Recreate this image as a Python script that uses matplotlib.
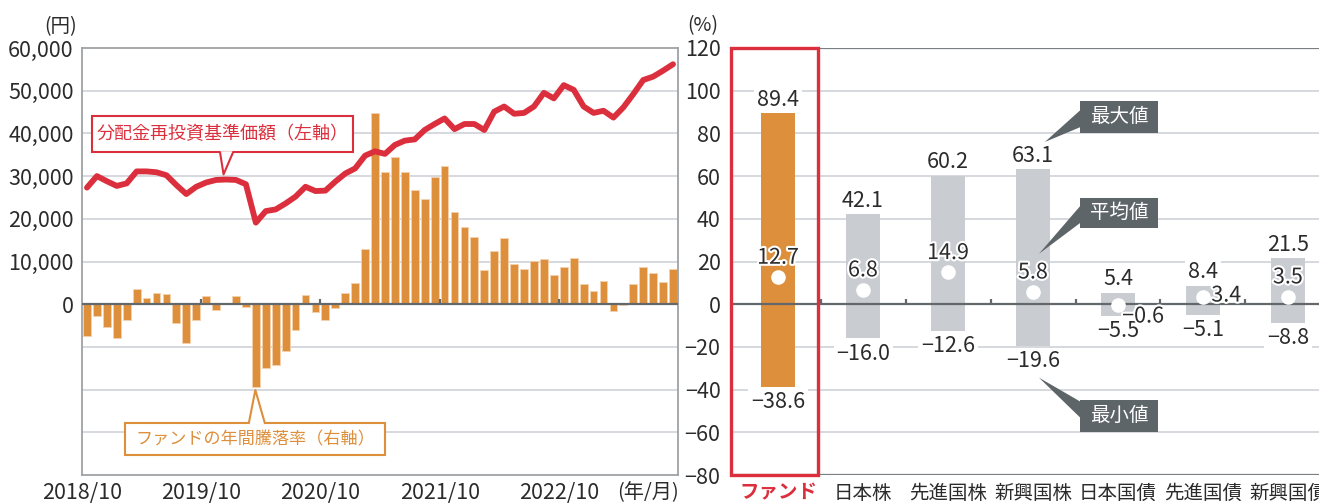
import matplotlib
matplotlib.use('Agg')
import matplotlib.pyplot as plt
from matplotlib.patches import Rectangle, Polygon
import matplotlib.patheffects as pe
from matplotlib.lines import Line2D

plt.rcParams['font.family'] = ['Noto Sans CJK JP', 'DejaVu Sans']

# ---------------- data ----------------
# monthly NAV (dividend reinvested), 2018/10 .. 2023/9
nav = [27300, 30000, 28800, 27700, 28300, 31100, 31100, 30900, 30200, 27900,
       25800, 27500, 28500, 29100, 29200, 29100, 28100, 19100, 21800, 22200,
       23600, 25200, 27500, 26500, 26600, 28700, 30600, 31800, 34800, 35800,
       35200, 37300, 38300, 38600, 40800, 42200, 43500, 41000, 42200, 42200,
       40800, 45100, 46300, 44600, 44800, 46300, 49500, 48200, 51300, 50200,
       46300, 44800, 45300, 43700, 46100, 49200, 52500, 53300, 54700, 56200]
# fund annual return (%)
annual_return = [-15.1, -5.6, -10.8, -15.7, -7.5, 7.1, 2.7, 5.3, 5.0, -8.8,
                 -18.0, -7.5, 4.0, -2.7, 0.3, 4.0, -1.3, -38.6, -30.0, -28.5,
                 -22.0, -11.9, 4.5, -3.8, -7.2, -1.6, 5.3, 10.0, 25.7, 89.4,
                 62.0, 69.0, 62.0, 53.6, 49.4, 59.8, 64.6, 43.0, 36.2, 31.5,
                 16.0, 24.9, 31.2, 18.8, 16.6, 20.2, 21.0, 13.6, 17.4, 21.5,
                 9.4, 6.0, 10.8, -3.1, -0.3, 9.4, 17.4, 14.7, 10.4, 16.6]
xtick_labels = ['2018/10', '2019/10', '2020/10', '2021/10', '2022/10']
xtick_month_index = [0, 12, 24, 36, 48]
yen_ticks = [0, 10000, 20000, 30000, 40000, 50000, 60000]
yen_tick_labels = ['0', '10,000', '20,000', '30,000', '40,000', '50,000', '60,000']

categories = ['ファンド', '日本株', '先進国株', '新興国株', '日本国債', '先進国債', '新興国債']
cat_max = [89.4, 42.1, 60.2, 63.1, 5.4, 8.4, 21.5]
cat_avg = [12.7, 6.8, 14.9, 5.8, -0.6, 3.4, 3.5]
cat_min = [-38.6, -16.0, -12.6, -19.6, -5.5, -5.1, -8.8]
pct_ticks = [-80, -60, -40, -20, 0, 20, 40, 60, 80, 100, 120]

# ---------------- style ----------------
ORANGE = '#DE8F3B'
RED = '#DC2F3D'
GRAYBAR = '#C9CDD1'
GRID = '#D2D6DA'
DARK = '#63686C'
TEXT = '#2b2b2b'
FS = 15.5

W, H = 1319, 503
fig = plt.figure(figsize=(W / 100, H / 100), dpi=100)


def minus(s):
    return s.replace('-', '\u2212')


# ---------------- left chart ----------------
axL = fig.add_axes([82 / W, 28 / H, 596 / W, 427 / H])
n = len(nav)
xs = list(range(n))
axL.set_xlim(-0.5, n - 0.5)
axL.set_ylim(-80, 120)
for v in [-60, -40, -20, 20, 40, 60, 80, 100]:
    axL.axhline(v, color=GRID, lw=1.3, zorder=0)
axL.bar(xs, annual_return, width=0.78, color=ORANGE, edgecolor='#F3D2AE',
        linewidth=0.6, zorder=2)
axL.axhline(0, color=DARK, lw=1.6, zorder=3)
axL.vlines([m - 0.5 for m in xtick_month_index[1:]], 0, 2.4, color=DARK, lw=1.6, zorder=3)
for s in axL.spines.values():
    s.set_color('#9EA2A6')
    s.set_linewidth(1.3)
axL.set_xticks([m - 0.5 for m in xtick_month_index] + [56.5])
axL.set_xticklabels(xtick_labels + ['(年/月)'], fontsize=FS, color=TEXT)
axL.get_xticklabels()[-1].set_fontsize(14.5)
axL.tick_params(axis='x', length=0, pad=5)

axN = axL.twinx()
axN.set_ylim(-40000, 60000)
axN.plot(xs, nav, color=RED, lw=4.2, solid_joinstyle='round',
         solid_capstyle='round', zorder=5)
axN.yaxis.tick_left()
axN.set_yticks(yen_ticks)
axN.set_yticklabels(yen_tick_labels, fontsize=FS, color=TEXT)
axN.tick_params(axis='y', length=0, pad=6)
for s in axN.spines.values():
    s.set_visible(False)
axL.tick_params(axis='y', left=False, labelleft=False, right=False, labelright=False)
fig.text(77 / W, 1 - 27 / H, '(円)', ha='right', va='center', fontsize=14, color=TEXT)

# callout: NAV
bx0, bx1, by0, by1 = 0.5, 26.8, 35530, 44000
axN.add_patch(Rectangle((bx0, by0), bx1 - bx0, by1 - by0, fc='white', ec=RED,
                        lw=1.5, zorder=6))
axN.add_patch(Polygon([(13.4, by0 + 300), (13.75, 30400), (14.7, by0 + 300)],
                      closed=False, fc='white', ec='none', zorder=7))
axN.add_line(Line2D([13.4, 13.75, 14.7], [by0, 30400, by0], color=RED, lw=1.5, zorder=7))
axN.text((bx0 + bx1) / 2, (by0 + by1) / 2, '分配金再投資基準価額（左軸）', ha='center',
         va='center', color=RED, fontsize=13, zorder=8)

# callout: annual return
cx0, cx1, cy0, cy1 = 3.83, 30.0, -70.7, -55.6
axL.add_patch(Rectangle((cx0, cy0), cx1 - cx0, cy1 - cy0, fc='white', ec=ORANGE,
                        lw=1.5, zorder=6))
axL.add_patch(Polygon([(16.3, cy1 - 0.6), (16.95, -40.2), (17.9, cy1 - 0.6)],
                      fc='white', ec='none', zorder=7))
axL.add_line(Line2D([16.3, 16.95, 17.9], [cy1, -40.2, cy1], color=ORANGE, lw=1.5, zorder=7))
axL.text((cx0 + cx1) / 2, (cy0 + cy1) / 2, 'ファンドの年間騰落率（右軸）', ha='center',
         va='center', color=ORANGE, fontsize=12.3, zorder=8)

# ---------------- right chart ----------------
axR = fig.add_axes([733 / W, 28 / H, (W - 733) / W, 427 / H])
axR.set_xlim(-0.53, 6.365)
axR.set_ylim(-80, 120)
for s in axR.spines.values():
    s.set_visible(False)
for v in [-60, -40, -20, 20, 40, 60, 80, 100]:
    axR.axhline(v, color=GRID, lw=1.3, zorder=0)
axR.axhline(120, color='#7A7F84', lw=1.6, zorder=1)
axR.axhline(-80, color='#7A7F84', lw=1.6, zorder=1)

cx = list(range(len(categories)))
heights = [mx - mn for mx, mn in zip(cat_max, cat_min)]
colors = [ORANGE] + [GRAYBAR] * (len(categories) - 1)
axR.bar(cx, heights, bottom=cat_min, width=0.41, color=colors, zorder=2)
axR.axhline(0, color=DARK, lw=1.6, zorder=3)
axR.vlines([c + 0.5 for c in cx[:-1]], 0, 2.4, color=DARK, lw=1.6, zorder=3)
axR.plot(cx, cat_avg, 'o', ms=10.5, mfc='white', mec='none', zorder=4)

axR.set_yticks(pct_ticks)
axR.set_yticklabels([minus(str(t)) for t in pct_ticks], fontsize=FS, color=TEXT)
axR.tick_params(axis='y', length=0, pad=9)
axR.set_xticks(cx)
axR.set_xticklabels(categories, fontsize=14, color=TEXT)
axR.tick_params(axis='x', length=0, pad=6)
lab0 = axR.get_xticklabels()[0]
lab0.set_color(RED)
lab0.set_fontweight('bold')
fig.text(703 / W, 1 - 26 / H, '(%)', ha='center', va='center', fontsize=14, color=TEXT)

wbox = dict(boxstyle='square,pad=0.12', fc='white', ec='none')
halo = [pe.withStroke(linewidth=3, foreground='white')]
for i in cx:
    axR.annotate(minus(f'{cat_max[i]:.1f}'), (i, cat_max[i]), xytext=(0, 2),
                 textcoords='offset points', ha='center', va='bottom', fontsize=FS,
                 color=TEXT, bbox=wbox, zorder=6)
    axR.annotate(minus(f'{cat_min[i]:.1f}'), (i, cat_min[i]), xytext=(0, -3),
                 textcoords='offset points', ha='center', va='top', fontsize=FS,
                 color=TEXT, bbox=wbox, zorder=6)
    if i == 4:
        off, ha, va = (3, 0), 'left', 'top'
    elif i == 5:
        off, ha, va = (6, 1), 'left', 'center'
    else:
        off, ha, va = (0, 6), 'center', 'bottom'
    axR.annotate(minus(f'{cat_avg[i]:.1f}'), (i, cat_avg[i]), xytext=off,
                 textcoords='offset points', ha=ha, va=va, fontsize=FS,
                 color=TEXT, path_effects=halo, zorder=7)

# red frame around fund
axR.add_patch(Rectangle((-0.553, -80), 1.023, 200, fill=False, ec=RED, lw=2.4,
                        clip_on=False, zorder=7))

# callouts (max / avg / min)
BOXC = '#5E6569'
for label, (y0, y1), (b0, b1), tip in [
        ('最大値', (80.3, 95.4), (83.0, 91.0), (3.14, 76.0)),
        ('平均値', (35.7, 49.8), (38.2, 46.2), (3.07, 23.6)),
        ('最小値', (-59.9, -44.8), (-53.3, -45.7), (3.07, -34.4))]:
    axR.add_patch(Rectangle((3.55, y0), 0.92, y1 - y0, fc=BOXC, ec='none', zorder=6,
                            clip_on=False))
    axR.add_patch(Polygon([(3.56, b0), tip, (3.56, b1)], fc=BOXC, ec='none', zorder=6))
    axR.text(3.55 + 0.46, (y0 + y1) / 2, label, ha='center', va='center', color='white',
             fontsize=14, zorder=7)

fig.savefig('out.png', dpi=100)
